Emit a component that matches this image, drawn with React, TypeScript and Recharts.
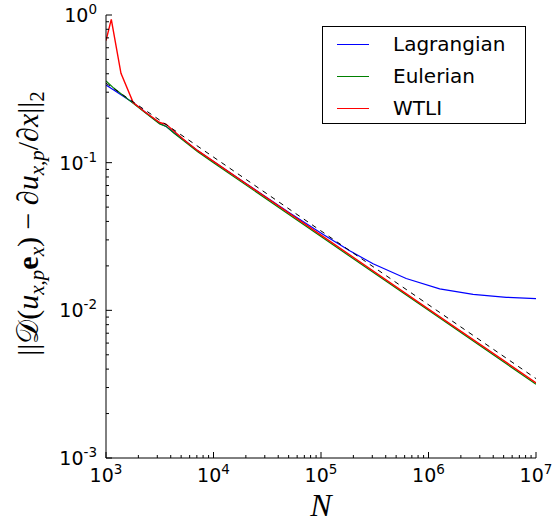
import { LineChart, Line, XAxis, YAxis, Legend } from "recharts";

// --- data ---
const lagrangianN = [1000, 1180, 1790, 2290, 3160, 3630, 4270, 5250, 7080, 10000, 20000, 50000, 104000, 185000, 305000, 620000, 1270000, 2600000, 5300000, 10000000];
const lagrangianErr = [0.336, 0.31, 0.255, 0.221, 0.184, 0.176, 0.16, 0.143, 0.121, 0.102, 0.0723, 0.0461, 0.0328, 0.0253, 0.0207, 0.01644, 0.01397, 0.01282, 0.01225, 0.01202];

const eulerianN = [1000, 1180, 1790, 2290, 3160, 3630, 4270, 5250, 7080, 10000, 100000, 1000000, 10000000];
const eulerianErr = [0.357, 0.32, 0.252, 0.219, 0.183, 0.176, 0.159, 0.141, 0.119, 0.1, 0.0316, 0.01, 0.00316];

const wtliN = [1000, 1120, 1378, 1790, 2290, 3160, 3630, 4270, 5250, 7080, 10000, 100000, 1000000, 10000000];
const wtliErr = [0.67, 0.935, 0.403, 0.255, 0.221, 0.187, 0.182, 0.164, 0.144, 0.121, 0.102, 0.0323, 0.0102, 0.00323];

// N^-1/2 reference slope
const refN = [1000, 10000000];
const refErr = [0.345, 0.00345];

const seriesNames = ["Lagrangian", "Eulerian", "WTLI"];
const seriesColors = ["#0000ff", "#008000", "#ff0000"];

const xDecades = [3, 4, 5, 6, 7];
const yDecades = [-3, -2, -1, 0];
const minorSteps = [2, 3, 4, 5, 6, 7, 8, 9];

const zip = (xs: number[], ys: number[]) => xs.map((N, i) => ({ N, err: ys[i] }));

function logTicks(decades: number[]) {
  const out: number[] = [];
  decades.forEach((d, i) => {
    out.push(Math.pow(10, d));
    if (i < decades.length - 1) minorSteps.forEach((m) => out.push(m * Math.pow(10, d)));
  });
  return out;
}

const xTicks = logTicks(xDecades);
const yTicks = logTicks(yDecades);

const MAJOR = 6;
const MINOR = 3;
const SANS = "'DejaVu Sans', sans-serif";
const SERIF = "'Liberation Serif', 'DejaVu Serif', serif";

const expOf = (v: number) => Math.round(Math.log10(v));
const isMajor = (v: number) => Math.abs(Math.log10(v) - expOf(v)) < 1e-6;

const BottomTick = ({ x, y, payload }: any) => {
  const major = isMajor(payload.value);
  return (
    <g>
      <line x1={x} x2={x} y1={y} y2={y - (major ? MAJOR : MINOR)} stroke="#000" />
      {major && (
        <text x={x} y={y + 24} textAnchor="middle" fontSize={19} fontFamily={SANS} fill="#000">
          10<tspan dy={-8} fontSize={13.5}>{expOf(payload.value)}</tspan>
        </text>
      )}
    </g>
  );
};

const TopTick = ({ x, y, payload }: any) => {
  const major = isMajor(payload.value);
  return <line x1={x} x2={x} y1={y} y2={y + (major ? MAJOR : MINOR)} stroke="#000" />;
};

const LeftTick = ({ x, y, payload }: any) => {
  const major = isMajor(payload.value);
  return (
    <g>
      <line x1={x} x2={x + (major ? MAJOR : MINOR)} y1={y} y2={y} stroke="#000" />
      {major && (
        <text x={x - 9} y={y + 7} textAnchor="end" fontSize={19} fontFamily={SANS} fill="#000">
          10<tspan dy={-8} fontSize={13.5}>{expOf(payload.value)}</tspan>
        </text>
      )}
    </g>
  );
};

const RightTick = ({ x, y, payload }: any) => {
  const major = isMajor(payload.value);
  return <line x1={x} x2={x - (major ? MAJOR : MINOR)} y1={y} y2={y} stroke="#000" />;
};

const XTitle = ({ viewBox }: any) => (
  <text x={viewBox.x + viewBox.width / 2} y={viewBox.y + 58} textAnchor="middle" fontSize={32} fontStyle="italic" fontFamily={SERIF} fill="#000">
    N
  </text>
);

const YTitle = ({ viewBox }: any) => {
  const cx = viewBox.x + 30;
  const cy = viewBox.y + viewBox.height / 2 - 13;
  return (
    <text x={cx} y={cy} transform={`rotate(-90 ${cx} ${cy})`} textAnchor="middle" fontSize={30} fontFamily={SERIF} fill="#000">
      <tspan>||</tspan>
      <tspan>𝒟</tspan>
      <tspan>(</tspan>
      <tspan fontStyle="italic">u</tspan>
      <tspan fontStyle="italic" fontSize={21} dy={6}>x,p</tspan>
      <tspan fontWeight="bold" dy={-6}>e</tspan>
      <tspan fontStyle="italic" fontSize={21} dy={6}>x</tspan>
      <tspan dy={-6}>{") \u2212 \u2202"}</tspan>
      <tspan fontStyle="italic">u</tspan>
      <tspan fontStyle="italic" fontSize={21} dy={6}>x,p</tspan>
      <tspan dy={-6}>/∂</tspan>
      <tspan fontStyle="italic">x</tspan>
      <tspan>||</tspan>
      <tspan fontSize={21} dy={6}>2</tspan>
    </text>
  );
};

const renderLegend = () => (
  <div
    style={{
      width: 204,
      height: 98,
      boxSizing: "border-box",
      border: "1px solid #000",
      background: "#fff",
      paddingTop: 1,
      fontFamily: SANS,
      fontSize: 20,
      color: "#000",
    }}
  >
    {seriesNames.map((name, i) => (
      <div key={name} style={{ height: 32, display: "flex", alignItems: "center" }}>
        <div style={{ marginLeft: 14, width: 32, height: 1, background: seriesColors[i] }} />
        <span style={{ marginLeft: 24, lineHeight: 1 }}>{name}</span>
      </div>
    ))}
  </div>
);

export default function App() {
  return (
    <div style={{ position: "absolute", left: 8, top: 0 }}>
      <LineChart width={547} height={523} margin={{ top: 15, right: 19, bottom: 0, left: 0 }}>
        <XAxis
          xAxisId="b"
          dataKey="N"
          type="number"
          scale="log"
          domain={[1000, 10000000]}
          allowDataOverflow
          ticks={xTicks}
          interval={0}
          height={65}
          tickSize={0}
          tickMargin={0}
          tickLine={false}
          tick={<BottomTick />}
          axisLine={{ stroke: "#000" }}
          label={<XTitle />}
        />
        <XAxis
          xAxisId="t"
          orientation="top"
          dataKey="N"
          type="number"
          scale="log"
          domain={[1000, 10000000]}
          allowDataOverflow
          ticks={xTicks}
          interval={0}
          height={0}
          tickSize={0}
          tickMargin={0}
          tickLine={false}
          tick={<TopTick />}
          axisLine={{ stroke: "#000" }}
        />
        <YAxis
          yAxisId="l"
          type="number"
          scale="log"
          domain={[0.001, 1]}
          allowDataOverflow
          ticks={yTicks}
          interval={0}
          width={98}
          tickSize={0}
          tickMargin={0}
          tickLine={false}
          tick={<LeftTick />}
          axisLine={{ stroke: "#000" }}
          label={<YTitle />}
        />
        <YAxis
          yAxisId="r"
          orientation="right"
          type="number"
          scale="log"
          domain={[0.001, 1]}
          allowDataOverflow
          ticks={yTicks}
          interval={0}
          width={0}
          tickSize={0}
          tickMargin={0}
          tickLine={false}
          tick={<RightTick />}
          axisLine={{ stroke: "#000" }}
        />
        <Legend
          layout="vertical"
          align="center"
          verticalAlign="middle"
          wrapperStyle={{ top: 26, left: 314, width: 204, height: 98 }}
          content={renderLegend}
        />
        <Line xAxisId="b" yAxisId="l" data={zip(lagrangianN, lagrangianErr)} dataKey="err" name={seriesNames[0]} stroke={seriesColors[0]} strokeWidth={1.2} dot={false} isAnimationActive={false} />
        <Line xAxisId="b" yAxisId="l" data={zip(eulerianN, eulerianErr)} dataKey="err" name={seriesNames[1]} stroke={seriesColors[1]} strokeWidth={1.2} dot={false} isAnimationActive={false} />
        <Line xAxisId="b" yAxisId="l" data={zip(wtliN, wtliErr)} dataKey="err" name={seriesNames[2]} stroke={seriesColors[2]} strokeWidth={1.4} dot={false} isAnimationActive={false} />
        <Line xAxisId="t" yAxisId="r" data={zip(refN, refErr)} dataKey="err" legendType="none" stroke="#000" strokeWidth={1} strokeDasharray="5 5" dot={false} isAnimationActive={false} />
      </LineChart>
    </div>
  );
}
